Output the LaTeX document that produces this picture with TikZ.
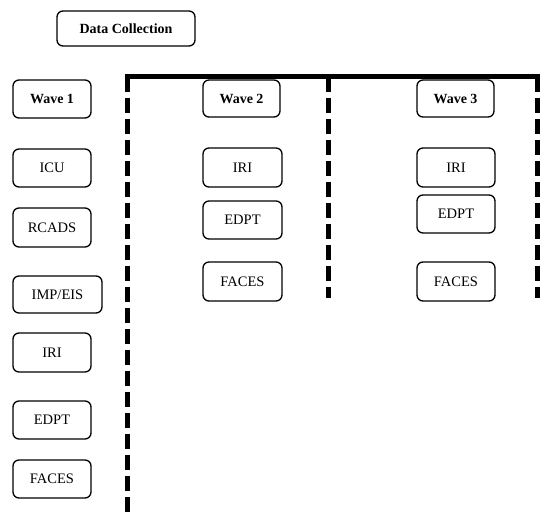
\documentclass[tikz,border=0pt]{standalone}
\usepackage{fontspec}
\setmainfont{Liberation Serif}
\begin{document}
\begin{tikzpicture}[x=1pt,y=-1pt,
  box/.style={draw,line width=1.3pt,rounded corners=6pt,inner sep=0pt,font=\fontsize{14.5}{16}\selectfont},
  bbox/.style={box,font=\fontsize{14}{16}\selectfont\bfseries},
  thickline/.style={line width=5pt},
  dline/.style={line width=5pt,dash pattern=on 15pt off 6pt}]
\useasboundingbox (0,0) rectangle (550,521);
% headers
\node[bbox,minimum width=138pt,minimum height=35pt] (dc) at (126,28.5) {Data Collection};
\node[bbox,minimum width=78pt,minimum height=38pt] (w1) at (52,99) {Wave 1};
\node[bbox,minimum width=77pt,minimum height=37pt] (w2) at (241.5,98.5) {Wave 2};
\node[bbox,minimum width=77pt,minimum height=37pt] (w3) at (455.5,98.5) {Wave 3};
% wave 1 column
\node[box,minimum width=78pt,minimum height=38pt] (icu) at (52,168) {ICU};
\node[box,minimum width=78pt,minimum height=39pt] (rcads) at (52,227.5) {RCADS};
\node[box,minimum width=89pt,minimum height=37pt] (imp) at (57.5,294.5) {IMP/EIS};
\node[box,minimum width=78pt,minimum height=39pt] (iri1) at (52,352.5) {IRI};
\node[box,minimum width=78pt,minimum height=38pt] (edpt1) at (52,420) {EDPT};
\node[box,minimum width=78pt,minimum height=38pt] (faces1) at (52,479) {FACES};
% wave 2 column
\node[box,minimum width=79pt,minimum height=39pt] (iri2) at (242.5,167.5) {IRI};
\node[box,minimum width=79pt,minimum height=38pt] (edpt2) at (242.5,220) {EDPT};
\node[box,minimum width=79pt,minimum height=39pt] (faces2) at (242.5,281.5) {FACES};
% wave 3 column
\node[box,minimum width=78pt,minimum height=39pt] (iri3) at (456,167.5) {IRI};
\node[box,minimum width=78pt,minimum height=38pt] (edpt3) at (456,214) {EDPT};
\node[box,minimum width=78pt,minimum height=39pt] (faces3) at (456,281.5) {FACES};
% frame lines
\coordinate (tl) at (127,77);
\coordinate (tm) at (328.5,77);
\coordinate (tr) at (537,77);
\coordinate (bl) at (127,516);
\coordinate (bm) at (328.5,298);
\coordinate (br) at (537,298);
\draw[thickline] ([xshift=-2.5pt]tl) -- ([xshift=2.5pt]tr);
\draw[dline] (tl) -- (bl);
\draw[dline] (tm) -- (bm);
\draw[dline] (tr) -- (br);
\end{tikzpicture}
\end{document}
